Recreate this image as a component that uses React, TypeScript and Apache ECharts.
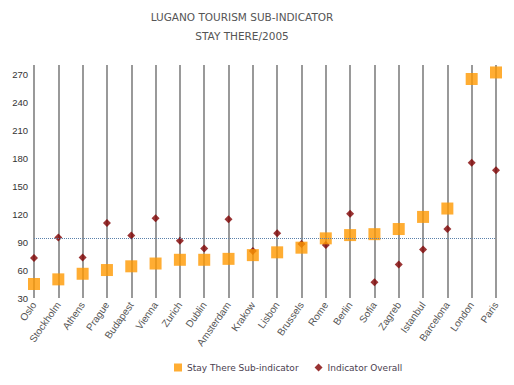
import React, { useEffect, useRef } from "react";
import * as echarts from "echarts";

const cities = [
  "Oslo", "Stockholm", "Athens", "Prague", "Budapest", "Vienna", "Zurich", "Dublin",
  "Amsterdam", "Krakow", "Lisbon", "Brussels", "Rome", "Berlin", "Sofia", "Zagreb",
  "Istanbul", "Barcelona", "London", "Paris",
];
const stayThere = [45, 50, 56, 60, 64, 67, 71, 71, 72, 76, 79, 84, 94, 97.5, 98.5, 104, 117, 126, 265, 272];
const overall = [73, 95, 73.5, 110.5, 97, 115.5, 91.5, 83, 114.5, 80.5, 99.5, 88, 87, 120.5, 47, 66, 82, 104, 175, 167];
const averageLine = 94;
const titleLines = ["LUGANO TOURISM SUB-INDICATOR", "STAY THERE/2005"];

export default function App() {
  const ref = useRef<HTMLDivElement>(null);
  useEffect(() => {
    document.body.style.margin = "0";
    const chart = echarts.init(ref.current!, undefined, { renderer: "svg" });
    chart.setOption({
      animation: false,
      backgroundColor: "#ffffff",
      graphic: [
        {
          type: "text",
          x: 242,
          y: 17,
          style: {
            text: titleLines[0],
            fill: "#555555",
            font: "10.5px 'DejaVu Sans'",
            textAlign: "center",
            textVerticalAlign: "middle",
          },
        },
        {
          type: "text",
          x: 242,
          y: 36,
          style: {
            text: titleLines[1],
            fill: "#555555",
            font: "10.5px 'DejaVu Sans'",
            textAlign: "center",
            textVerticalAlign: "middle",
          },
        },
      ],
      legend: {
        left: 169,
        top: 358,
        itemWidth: 8,
        itemHeight: 8,
        itemGap: 16,
        textStyle: { fontFamily: "DejaVu Sans", fontSize: 9, color: "#4a4050" },
        data: [
          { name: "Stay There Sub-indicator", icon: "rect" },
          { name: "Indicator Overall", icon: "diamond" },
        ],
      },
      grid: { left: 34, right: 18, top: 65, bottom: 87 },
      xAxis: {
        type: "category",
        data: cities,
        boundaryGap: false,
        axisLine: { show: false },
        axisTick: { show: false },
        axisLabel: {
          rotate: 55,
          margin: 5,
          fontSize: 10,
          fontFamily: "Liberation Sans",
          color: "#555555",
          interval: 0,
        },
        splitLine: { show: true, lineStyle: { color: "#808080", width: 1.6 } },
      },
      yAxis: {
        type: "value",
        min: 30,
        max: 280,
        interval: 30,
        axisLine: { show: false },
        axisTick: { show: false },
        splitLine: { show: false },
        axisLabel: {
          margin: 6,
          fontSize: 9.5,
          fontFamily: "Liberation Sans",
          color: "#333333",
          showMaxLabel: false,
        },
      },
      series: [
        {
          name: "Stay There Sub-indicator",
          type: "scatter",
          symbol: "rect",
          symbolSize: 12,
          z: 3,
          itemStyle: { color: "#FF9900" },
          data: stayThere,
          markLine: {
            silent: true,
            symbol: "none",
            label: { show: false },
            lineStyle: { color: "#5a80aa", type: "dotted", width: 1 },
            data: [{ yAxis: averageLine }],
          },
        },
        {
          name: "Indicator Overall",
          type: "scatter",
          symbol: "diamond",
          symbolSize: 8,
          z: 2,
          itemStyle: { color: "#800000" },
          data: overall,
        },
      ],
    });
    return () => chart.dispose();
  }, []);
  return <div ref={ref} style={{ width: 514, height: 385 }} />;
}
